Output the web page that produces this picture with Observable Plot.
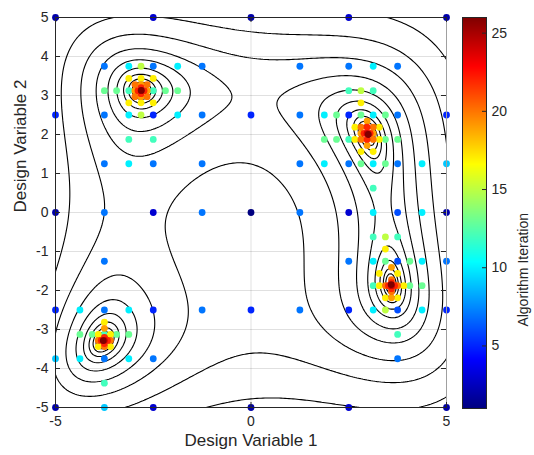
<!DOCTYPE html>
<html><head><meta charset="utf-8">
<script src="https://cdn.jsdelivr.net/npm/d3@7"></script>
<script src="https://cdn.jsdelivr.net/npm/@observablehq/plot@0.6"></script>
<style>
body{margin:0;background:#fff;}
#wrap{position:relative;width:534px;height:455px;}
#main{position:absolute;left:0;top:0;}
#cbar{position:absolute;left:450px;top:0;}
</style></head><body><div id="wrap"><div id="main"></div><div id="cbar"></div></div>
<script>
// ---- axis / tick data ----
const xTicks = [-5, 0, 5];
const yTicks = [-5, -4, -3, -2, -1, 0, 1, 2, 3, 4, 5];
const cbarTicks = [5, 10, 15, 20, 25];
const cbarDomain = [1, 26];
const contourLevels = [0.9765625, 1.953125, 3.90625, 7.8125, 15.625, 31.25, 62.5, 125, 250, 500];

// ---- sampled points: x, y, iteration ----
const pointX = [
  0, -5, 0, 5, -5, 5, -5, 0, 5, -2.5, 2.5, -2.5, 2.5, -2.5, 2.5,
  -5, 0, 5, -2.5, 2.5, -5, 0, 5, -2.5, 2.5, 3.75, 3.75, 3.75,
  -3.75, -2.5, -1.25, -3.75, -1.25, -3.75, -2.5, -1.25, -3.75, -1.25, 1.25, 2.5, 3.75, 1.25, 3.75, 1.25, 2.5, 3.75, 1.25, 2.5, -3.75, -3.75, -1.25, 1.25, -3.75, -2.5, 3.75, 5,
  5, -5, -3.75,
  -3.125, -1.875, -3.125, -1.875, -3.125, 3.125, 1.875, 3.125, 1.875, 3.125, 4.375, 3.125, 4.375, 3.125, 4.375, 3.125, 4.375, -4.375, -3.125, -4.375, -3.125,
  -3.125, -2.5, -3.125, -2.5, 2.5, 3.125, 2.5, 3.125, 3.125, 3.75, 3.125, 3.75, -3.75, -3.75,
  -3.75, -3.4375, -2.1875, -1.875, 2.1875, 2.8125, 3.4375, 1.875, 2.1875, 3.4375, 3.75, 2.8125, 3.4375, 3.4375, 4.0625, 4.0625, 4.375, -4.375, -4.0625, -3.4375, -3.125,
  -2.8125, -2.8125, 2.8125, 3.4375, 3.4375,
  -3.125, -2.8125, -2.5, -3.125, -2.8125, -2.5, 2.8125, 2.65625, 3.28125, 2.65625, 3.28125, 2.8125, 3.125, 3.4375, 3.28125, 3.75, 3.28125, 3.90625, 3.4375, 3.75, -3.75, -3.90625, -3.59375, -3.90625, -3.59375,
  -2.96875, -2.65625, -2.8125, -2.8125, -2.96875, -2.65625, -2.96875, -2.65625, -2.890625, -2.734375, -2.8125, -2.8125, -2.8125, -2.8047,
  2.96875, 2.96875, 2.8125, 3.125, 2.8125, 3.125, 2.8125, 3.125, 2.96875, 2.96875, 2.890625, 3.046875, 2.96875, 3.0,
  -3.75, -3.90625, -3.59375, -3.75, -3.828125, -3.671875, -3.75, -3.75, -3.75, -3.7793,
  3.59375, 3.59375, 3.4375, 3.75, 3.59375, 3.59375, 3.515625, 3.671875, 3.59375, 3.59375, 3.59375, 3.5844
];
const pointY = [
  0, 5, 5, 5, 0, 0, -5, -5, -5, 5, 5, 0, 0, -5, -5,
  2.5, 2.5, 2.5, 2.5, 2.5, -2.5, -2.5, -2.5, -2.5, -2.5, 0, -2.5, -1.25,
  3.75, 3.75, 3.75, 2.5, 2.5, 1.25, 1.25, 1.25, 0, 0, 3.75, 3.75, 3.75, 2.5, 2.5, 1.25, 1.25, 1.25, 0, -1.25, -1.25, -2.5, -2.5, -2.5, -3.75, -3.75, -3.75, -1.25,
  1.25, -3.75, -5,
  3.75, 3.75, 2.5, 2.5, 1.25, 3.75, 2.5, 2.5, 1.25, 1.25, 1.25, 0, 0, -1.25, -1.25, -2.5, -2.5, -2.5, -2.5, -3.75, -3.75,
  3.125, 3.125, 1.875, 1.875, 3.125, 3.125, 1.875, 0.625, -0.625, -0.625, -1.875, -3.125, -3.125, -4.375,
  3.125, 3.125, 3.125, 3.125, 2.5, 2.5, 2.5, 1.875, 1.875, 1.875, 1.875, 1.25, 1.25, -1.25, -1.25, -1.875, -1.875, -3.125, -3.125, -3.125, -3.125,
  3.75, 2.5, 3.125, -0.625, -2.5,
  3.4375, 3.4375, 3.4375, 2.8125, 2.8125, 2.8125, 2.8125, 2.1875, 2.1875, 1.875, 1.875, 1.5625, 1.5625, -0.9375, -1.5625, -1.5625, -1.875, -1.875, -2.1875, -2.1875, -2.8125, -3.125, -3.125, -3.4375, -3.4375,
  3.125, 3.125, 3.28125, 2.96875, 3.28125, 3.28125, 2.96875, 2.96875, 3.125, 3.125, 3.203125, 3.046875, 3.125, 3.1289,
  2.34375, 1.71875, 2.03125, 2.03125, 2.1875, 2.1875, 1.875, 1.875, 2.1875, 1.875, 2.03125, 2.03125, 2.03125, 2.0,
  -2.96875, -3.28125, -3.28125, -3.4375, -3.28125, -3.28125, -3.203125, -3.359375, -3.28125, -3.2832,
  -1.40625, -2.1875, -1.875, -1.875, -1.71875, -2.03125, -1.875, -1.875, -1.796875, -1.953125, -1.875, -1.8481
];
const pointIter = [
  1, 2, 2, 2, 2, 2, 2, 2, 2, 3, 3, 3, 3, 3, 3,
  5, 5, 5, 5, 5, 5, 5, 5, 5, 5, 6, 6, 6,
  7, 7, 7, 7, 7, 7, 7, 7, 7, 7, 7, 7, 7, 7, 7, 7, 7, 7, 7, 7, 7, 7, 7, 7, 7, 7, 7, 7,
  9, 9, 9,
  10, 10, 10, 10, 10, 10, 10, 10, 10, 10, 10, 10, 10, 10, 10, 10, 10, 10, 10, 10, 10,
  12, 12, 12, 12, 12, 12, 12, 12, 12, 12, 12, 12, 12, 12,
  13, 13, 13, 13, 13, 13, 13, 13, 13, 13, 13, 13, 13, 13, 13, 13, 13, 13, 13, 13, 13,
  15, 15, 15, 15, 15,
  17, 17, 17, 17, 17, 17, 17, 17, 17, 17, 17, 17, 17, 17, 17, 17, 17, 17, 17, 17, 17, 17, 17, 17, 17,
  19, 19, 19, 19, 20, 20, 20, 20, 22, 22, 22, 22, 24, 26,
  19, 19, 19, 19, 20, 20, 20, 20, 22, 22, 22, 22, 24, 26,
  19, 20, 20, 20, 22, 22, 22, 22, 24, 26,
  19, 19, 20, 20, 20, 20, 22, 22, 22, 22, 24, 26
];

// objective whose contours are drawn (Himmelblau)
function objective(x, y) { return (x * x + y - 11) ** 2 + (x + y * y - 7) ** 2; }

// jet colormap
const jetStops = ["#000080", "#0000ff", "#00ffff", "#ffff00", "#ff0000", "#800000"];
const jetPos = [0, 0.125, 0.375, 0.625, 0.875, 1];
const colorScale = {
  type: "linear",
  domain: jetPos.map(p => cbarDomain[0] + p * (cbarDomain[1] - cbarDomain[0])),
  range: jetStops,
  interpolate: "rgb",
  clamp: true
};

const points = d3.sort(pointX.map((x, i) => ({x, y: pointY[i], iter: pointIter[i]})), d => d.iter);

const font = "Arial, 'Liberation Sans', Helvetica, sans-serif";
const fmt = d => String(d);

const main = Plot.plot({
  width: 450, height: 455,
  marginLeft: 55, marginRight: 4, marginTop: 17, marginBottom: 48,
  x: {domain: [-5, 5], label: null},
  y: {domain: [-5, 5], label: null},
  color: colorScale,
  style: {fontFamily: font, fontSize: "14px", color: "#262626", background: "white", overflow: "visible"},
  marks: [
    Plot.gridY(yTicks, {stroke: "#000", strokeOpacity: 0.12, strokeWidth: 1}),
    Plot.gridX(xTicks, {stroke: "#000", strokeOpacity: 0.12, strokeWidth: 1}),
    Plot.contour({value: objective, x1: -5.3, x2: 5.3, y1: -5.3, y2: 5.3, thresholds: contourLevels,
      stroke: "black", fill: "none", strokeWidth: 1.1, clip: true}),
    Plot.dot(points, {x: "x", y: "y", fill: "iter", r: 3.4, stroke: null}),
    Plot.frame({stroke: "#262626"}),
    Plot.ruleX([5], {stroke: "#a0a0a0"}),
    Plot.tickY(yTicks, {y: d => d, stroke: "#262626", insetRight: 386}),
    Plot.tickY(yTicks, {y: d => d, stroke: "#262626", insetLeft: 386}),
    Plot.tickX(xTicks, {x: d => d, stroke: "#262626", insetTop: 385}),
    Plot.tickX(xTicks, {x: d => d, stroke: "#262626", insetBottom: 385}),
    Plot.axisY(yTicks, {anchor: "left", tickSize: 0, tickPadding: 7, tickFormat: fmt, label: null, fontSize: 14}),
    Plot.axisX(xTicks, {anchor: "bottom", tickSize: 0, tickPadding: 9, tickFormat: fmt, label: null, fontSize: 14}),
    Plot.text(["Design Variable 1"], {text: d => d, frameAnchor: "bottom", dy: 38, fontSize: 17, fill: "#262626"}),
    Plot.text(["Design Variable 2"], {text: d => d, frameAnchor: "left", dx: -35, rotate: -90, fontSize: 17, fill: "#262626"})
  ]
});
document.getElementById("main").appendChild(main);

const cbar = Plot.plot({
  width: 84, height: 455,
  marginLeft: 12, marginRight: 48, marginTop: 17, marginBottom: 47,
  x: {domain: [0, 1], axis: null},
  y: {domain: cbarDomain, label: null, axis: null},
  color: colorScale,
  style: {fontFamily: font, fontSize: "14px", color: "#262626", background: "white", overflow: "visible"},
  marks: [
    Plot.raster({x1: 0, x2: 1, y1: cbarDomain[0], y2: cbarDomain[1], fill: (x, y) => y, pixelSize: 1}),
    Plot.frame({stroke: "#262626"}),
    Plot.tickY(cbarTicks, {y: d => d, stroke: "#262626", insetLeft: 20}),
    Plot.axisY(cbarTicks, {anchor: "right", tickSize: 0, tickPadding: 5, tickFormat: fmt, label: null, fontSize: 14}),
    Plot.text(["Algorithm Iteration"], {text: d => d, frameAnchor: "right", dx: 37, rotate: -90, fontSize: 14, fill: "#262626"})
  ]
});
document.getElementById("cbar").appendChild(cbar);
</script></body></html>
